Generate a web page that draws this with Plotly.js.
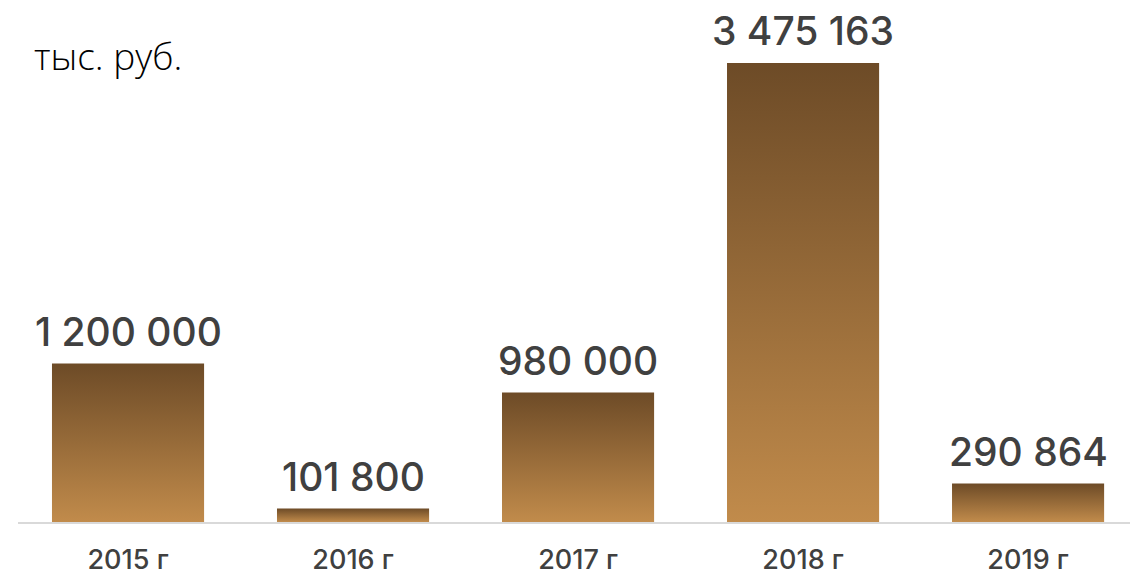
<!DOCTYPE html>
<html><head><meta charset="utf-8">
<script src="https://cdn.plot.ly/plotly-3.0.1.min.js"></script>
<style>html,body{margin:0;padding:0;background:#fff}#chart{width:1130px;height:580px}</style>
</head><body><div id="chart"></div>
<script>
var categories = ['2015 г', '2016 г', '2017 г', '2018 г', '2019 г'];
var values = [1200000, 101800, 980000, 3475163, 290864];
var valueLabels = ['1 200 000', '101 800', '980 000', '3 475 163', '290 864'];
var unitLabel = 'тыс. руб.';

var FONT = 'Inter, "Open Sans", sans-serif';
var FONT2 = '"Open Sans", "Noto Sans", sans-serif';
var trace = {
  type: 'bar', x: categories, y: values, width: 0.676,
  marker: {color: '#a0743d', line: {width: 0}},
  hoverinfo: 'none'
};
var annotations = categories.map(function (c, i) {
  return {x: c, y: values[i], text: valueLabels[i], showarrow: false, xanchor: 'center', yanchor: 'bottom',
    yshift: 7, font: {family: FONT, size: 39, weight: 500, color: '#404040'}};
});
annotations.push({xref: 'paper', yref: 'paper', x: 0.013, y: 0.93, xanchor: 'left', yanchor: 'middle', showarrow: false,
  text: unitLabel, font: {family: FONT2, size: 37, weight: 300, color: '#000000'}});
var layout = {
  width: 1130, height: 580, margin: {l: 18, r: 0, t: 20, b: 58},
  paper_bgcolor: '#fff', plot_bgcolor: '#fff', showlegend: false,
  xaxis: {type: 'category', range: [-0.489, 4.453], showline: true, linecolor: '#d9d9d9', linewidth: 2,
    ticks: '', showgrid: false, zeroline: false, tickfont: {family: FONT, size: 27, weight: 500, color: '#404040'}, ticklabelstandoff: 13},
  yaxis: {range: [0, 3800700], visible: false, showgrid: false, zeroline: false},
  annotations: annotations
};
Plotly.newPlot('chart', [trace], layout, {staticPlot: true}).then(function (gd) {
  var svg = gd.querySelector('svg.main-svg');
  var ns = 'http://www.w3.org/2000/svg';
  var defs = svg.querySelector('defs') || svg.insertBefore(document.createElementNS(ns, 'defs'), svg.firstChild);
  var lg = document.createElementNS(ns, 'linearGradient');
  lg.setAttribute('id', 'barGrad'); lg.setAttribute('x1', '0'); lg.setAttribute('y1', '0'); lg.setAttribute('x2', '0'); lg.setAttribute('y2', '1');
  [['0', '#6d4b27'], ['1', '#c18b4b']].forEach(function (s) {
    var st = document.createElementNS(ns, 'stop'); st.setAttribute('offset', s[0]); st.setAttribute('stop-color', s[1]); lg.appendChild(st);
  });
  defs.appendChild(lg);
  gd.querySelectorAll('.bars .point path').forEach(function (p) { p.style.fill = 'url(#barGrad)'; });
});
</script></body></html>
